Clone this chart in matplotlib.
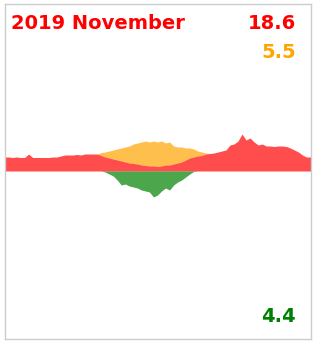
import matplotlib
matplotlib.use('Agg')
import matplotlib.pyplot as plt
import numpy as np

# monthly profile (one sample ~ every 0.4 day)
red = [14, 14, 13.5, 14, 13.5, 13.5, 17, 13.5, 13.5, 13.5, 13.5, 13.5, 14, 14, 15, 16,
       16, 16, 16.5, 16, 17, 17, 17, 17, 15.5, 14, 13, 12, 11, 10, 9, 8,
       7.5, 7, 6, 5.5, 5, 5, 4.5, 5, 6, 6, 7, 8, 9, 11, 13, 14,
       15, 15.5, 17, 17.5, 18, 19, 20, 21, 26, 27, 30, 37, 31, 33, 29, 26,
       27, 25, 25, 24.5, 25, 25, 24.5, 23, 21, 19, 16, 14, 14]
orange = [0] * 24 + [3, 5, 7, 9, 11, 13, 15, 17, 19.5, 21, 23, 24.5, 24, 25, 24.5, 25,
          22, 23, 18, 16, 15, 12, 10, 8, 5, 3.5, 1] + [0] * 26
green = [0] * 25 + [1, 3, 5, 9, 14, 13, 15, 16, 17, 19, 20, 21, 26, 24, 20, 17,
         19, 14, 11, 9, 6, 3, 0.5] + [0] * 29

title = '2019 November'
red_val, orange_val, green_val = '18.6', '5.5', '4.4'

red = np.array(red, dtype=float)
orange = np.array(orange, dtype=float)
green = np.array(green, dtype=float)
x = np.arange(len(red))

W, H = 314, 343
fig = plt.figure(figsize=(W / 100, H / 100), dpi=100)
ax = fig.add_axes([4.5 / W, 4 / H, 306 / W, 335 / H])

ax.fill_between(x, red, red + orange, color='orange', alpha=0.7, lw=0)
ax.fill_between(x, 0, red, color='red', alpha=0.7, lw=0)
ax.fill_between(x, 0, -green, color='green', alpha=0.7, lw=0)

ax.set_xlim(0, len(x) - 1)
ax.set_ylim(-168, 167)
ax.set_xticks([])
ax.set_yticks([])
for s in ax.spines.values():
    s.set_color('#cccccc')
    s.set_linewidth(1)

# labels
fig.text(11 / W, 1 - 29 / H, title, color='red', fontsize=14, fontweight='bold', va='baseline')
fig.text(296 / W, 1 - 29 / H, red_val, color='red', fontsize=14, fontweight='bold', ha='right', va='baseline')
fig.text(296 / W, 1 - 57.5 / H, orange_val, color='orange', fontsize=14, fontweight='bold', ha='right', va='baseline')
fig.text(296 / W, 1 - 322 / H, green_val, color='green', fontsize=14, fontweight='bold', ha='right', va='baseline')

fig.savefig('out.png', dpi=100)
